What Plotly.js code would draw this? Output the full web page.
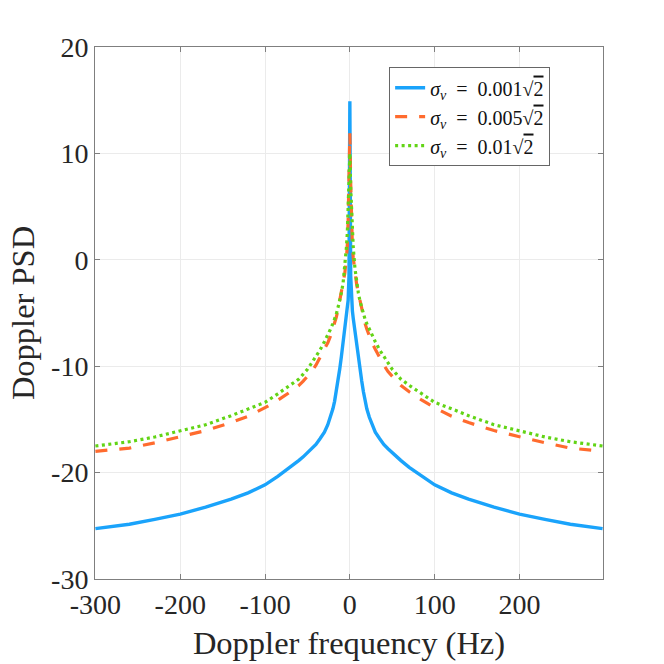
<!DOCTYPE html>
<html>
<head>
<meta charset="utf-8">
<script src="https://cdn.plot.ly/plotly-3.0.1.min.js"></script>
<style>
  html, body { margin: 0; padding: 0; background: #fff; }
  #chart { width: 664px; height: 664px; }
</style>
</head>
<body>
<div id="chart"></div>
<script>
// Doppler frequency samples (Hz)
const freq = [-300, -260, -230, -200, -170, -140, -120, -100, -85, -70, -60, -55, -50, -45, -40, -35, -30, -26, -23, -20, -18, -16, -14, -12, -10, -8, -6, -4, -3, -2, -1,
              0, 1, 2, 3, 4, 6, 8, 10, 12, 14, 16, 18, 20, 23, 26, 30, 35, 40, 45, 50, 55, 60, 70, 85, 100, 120, 140, 170, 200, 230, 260, 298];

// PSD values (dB) for each sigma_v
const psd001 = [-25.27, -24.85, -24.4, -23.9, -23.25, -22.5, -21.9, -21.15, -20.35, -19.5, -18.85, -18.52, -18.15, -17.75, -17.35, -16.8, -16.2, -15.5, -14.8, -14.0, -13.3, -12.4, -11.4, -10.3, -9.1, -7.9, -6.8, -5.5, -4.8, -3.8, -1.5,
                14.9, -1.5, -3.8, -4.8, -5.5, -6.8, -7.9, -9.1, -10.3, -11.4, -12.4, -13.3, -14.0, -14.8, -15.5, -16.2, -16.8, -17.35, -17.75, -18.15, -18.52, -18.85, -19.5, -20.35, -21.15, -21.9, -22.5, -23.25, -23.9, -24.4, -24.85, -25.27];

const psd005 = [-18.0, -17.7, -17.2, -16.65, -16.05, -15.3, -14.7, -13.9, -13.2, -12.4, -11.8, -11.4, -11.0, -10.5, -9.9, -9.2, -8.4, -7.8, -7.2, -6.5, -6.0, -5.4, -4.7, -3.9, -3.1, -2.3, -1.3, 0.2, 1.3, 3.8, 7.2,
                11.9, 7.2, 3.8, 1.3, 0.2, -1.3, -2.3, -3.1, -3.9, -4.7, -5.4, -6.0, -6.5, -7.2, -7.8, -8.4, -9.2, -9.9, -10.5, -11.0, -11.4, -11.8, -12.4, -13.2, -13.9, -14.7, -15.3, -16.05, -16.65, -17.2, -17.7, -18.0];

const psd010 = [-17.5, -17.1, -16.65, -16.1, -15.5, -14.65, -14.0, -13.4, -12.6, -11.8, -11.2, -10.75, -10.3, -9.7, -9.1, -8.45, -7.7, -7.1, -6.55, -6.0, -5.6, -5.1, -4.5, -3.9, -3.1, -2.2, -0.8, 1.2, 2.5, 4.5, 6.8,
                10.0, 6.8, 4.5, 2.5, 1.2, -0.8, -2.2, -3.1, -3.9, -4.5, -5.1, -5.6, -6.0, -6.55, -7.1, -7.7, -8.45, -9.1, -9.7, -10.3, -10.75, -11.2, -11.8, -12.6, -13.4, -14.0, -14.65, -15.5, -16.1, -16.65, -17.1, -17.5];

// Axis ticks
const xTicks = [-300, -200, -100, 0, 100, 200];
const xTickText = ['-300', '-200', '-100', '0', '100', '200'];
const yTicks = [-30, -20, -10, 0, 10, 20];
const yTickText = ['-30', '-20', '-10', '0', '10', '20'];

const root2 = '√<span style="text-decoration:overline">2</span>';
const sigmaEq = '<i>σ</i><sub><i>v</i></sub>\u2002=\u2002';
const legendNames = [
    sigmaEq + '0.001' + root2,
    sigmaEq + '0.005' + root2,
    sigmaEq + '0.01' + root2
];

const traces = [
    { x: freq, y: psd001, name: legendNames[0], mode: 'lines',
      line: { color: '#1aa3fb', width: 3.4 } },
    { x: freq, y: psd005, name: legendNames[1], mode: 'lines',
      line: { color: '#ff6b2e', width: 3.2, dash: '12px,12px' } },
    { x: freq, y: psd010, name: legendNames[2], mode: 'lines',
      line: { color: '#62d415', width: 3.2, dash: '3px,3.5px' } }
];

const serif = 'Liberation Serif, Times New Roman, serif';

const axisCommon = {
    showline: true,
    linecolor: '#7f7f7f',
    linewidth: 1,
    mirror: 'ticks',
    ticks: 'inside',
    ticklen: 5,
    tickcolor: '#7f7f7f',
    showgrid: true,
    gridcolor: '#ebebeb',
    gridwidth: 1,
    zeroline: false,
    tickfont: { family: serif, size: 28, color: '#262626' }
};

const layout = {
    width: 664,
    height: 664,
    paper_bgcolor: '#fff',
    plot_bgcolor: '#fff',
    margin: { l: 95, r: 61, t: 47, b: 85 },
    showlegend: true,
    xaxis: {
        ...axisCommon,
        range: [-300.5, 298.5],
        tickvals: xTicks,
        ticktext: xTickText,
        title: { text: 'Doppler frequency (Hz)', font: { family: serif, size: 32.5, color: '#262626' }, standoff: 12 }
    },
    yaxis: {
        ...axisCommon,
        range: [-30, 20],
        tickvals: yTicks,
        ticktext: yTickText,
        title: { text: 'Doppler PSD', font: { family: serif, size: 32.5, color: '#262626' }, standoff: 6 }
    },
    legend: {
        x: 0.579, y: 0.962, xanchor: 'left', yanchor: 'top',
        bgcolor: '#fff',
        bordercolor: '#666',
        borderwidth: 1,
        font: { family: serif, size: 20, color: '#111' },
        tracegroupgap: 0
    }
};

Plotly.newPlot('chart', traces, layout, { displayModeBar: false, staticPlot: true });
</script>
</body>
</html>
